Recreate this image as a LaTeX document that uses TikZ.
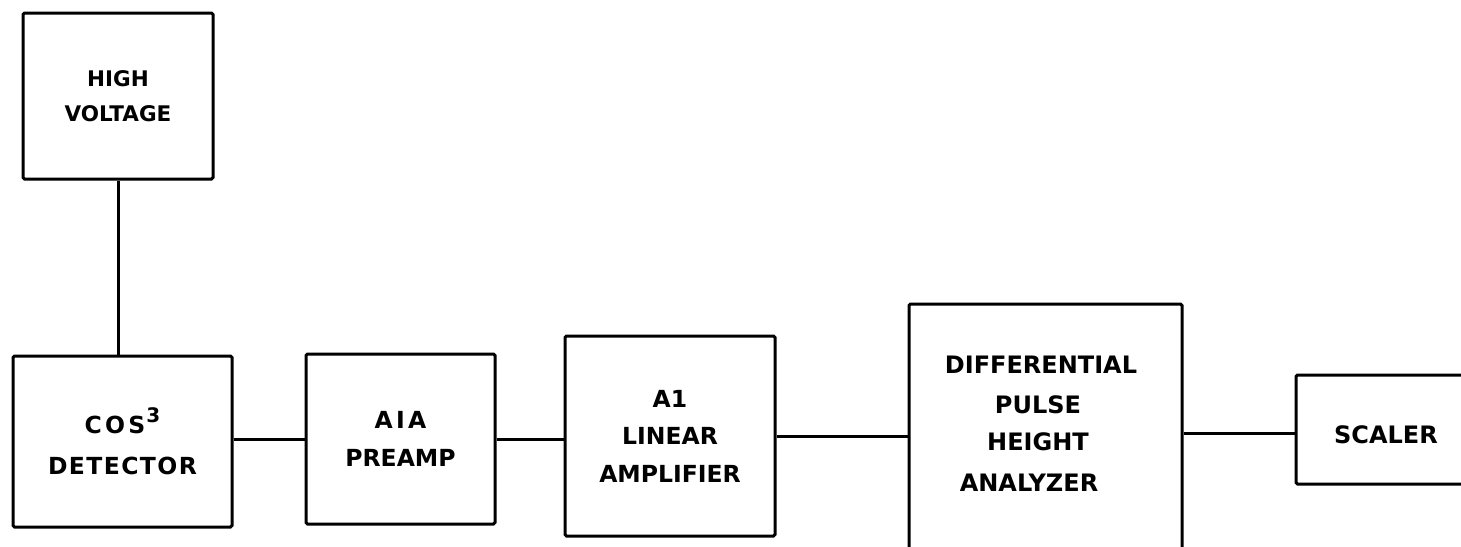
\documentclass[tikz,border=0pt]{standalone}
\usepackage{fontspec}
\newfontfamily\labfont{DejaVu Sans}
\newfontfamily\labwide[LetterSpace=6]{DejaVu Sans}
\newfontfamily\labwider[LetterSpace=14]{DejaVu Sans}
\tikzset{
  box/.style={draw, line width=3pt, rounded corners=1.5pt, inner sep=0pt, align=center,
    font=\labfont\bfseries\fontsize{23.5}{37.5}\selectfont},
  lab/.style={inner sep=0pt, align=center, font=\labfont\bfseries\fontsize{24}{25}\selectfont},
  wire/.style={line width=3pt}
}
\begin{document}
\begin{tikzpicture}[x=1pt,y=-1pt]
\useasboundingbox (0,0) rectangle (1461,546);
\clip (0,0) rectangle (1461,546);
\fill[white] (0,0) rectangle (1461,546);
\node[box, minimum width=190pt, minimum height=166pt, font=\labfont\bfseries\fontsize{21.5}{34.5}\selectfont] (hv) at (118,96) {HIGH\\VOLTAGE};
\node[box, minimum width=219pt, minimum height=171pt, font=\labwide\bfseries\fontsize{23.5}{41}\selectfont] (det) at (122.5,441.5) {{\labwider\bfseries COS}\kern1pt\raisebox{11pt}{\fontsize{20}{20}\selectfont 3}\\DETECTOR};
\node[box, minimum width=189pt, minimum height=170pt, font=\labfont\bfseries\fontsize{23.5}{38.5}\selectfont] (pre) at (400.5,439) {{\labwider\bfseries AIA}\\PREAMP};
\node[box, minimum width=210pt, minimum height=200pt] (lin) at (670,436) {A1\\LINEAR\\AMPLIFIER};
\node[box, minimum width=273pt, minimum height=296pt] (dpha) at (1045.5,452) {};
\node[lab] (dphaa) at (1041,365) {DIFFERENTIAL};
\node[lab] (dphab) at (1038,404.5) {PULSE};
\node[lab] (dphac) at (1038,442) {HEIGHT};
\node[lab] (dphad) at (1029,483) {ANALYZER};
\node[box, minimum width=180pt, minimum height=109pt] (scal) at (1386,429.5) {};
\node[lab] (scaltext) at (1386,435) {SCALER};
\draw[wire] (hv.south) -- (hv.south |- det.north);
\draw[wire] (det.east |- pre.west) -- (pre.west);
\draw[wire] (pre.east) -- (pre.east -| lin.west);
\draw[wire] (lin.east) -- (lin.east -| dpha.west);
\draw[wire] ([yshift=-3.5pt]scal.west) -- ([yshift=-3.5pt]scal.west -| dpha.east);
\end{tikzpicture}
\end{document}
